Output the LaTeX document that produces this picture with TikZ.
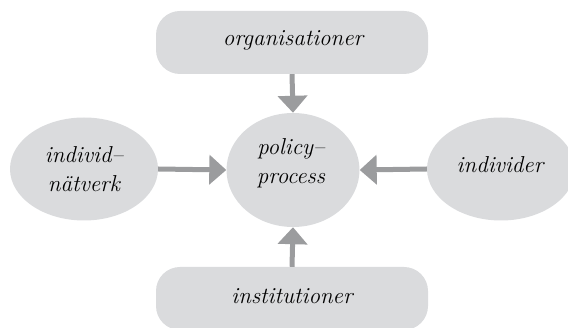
\documentclass[tikz,border=0pt]{standalone}
\usetikzlibrary{shapes.geometric,arrows.meta}
\definecolor{shapefill}{RGB}{218,219,221}
\definecolor{arrowgray}{RGB}{155,156,158}
\tikzset{
  box/.style={draw=none,fill=shapefill,rounded corners=24pt,minimum width=272pt,minimum height=63pt,inner sep=0pt},
  oval/.style={draw=none,fill=shapefill,ellipse,inner sep=0pt,align=center},
  lbl/.style={font=\fontsize{23}{29}\selectfont\itshape,align=center},
  flow/.style={draw=arrowgray,line width=5pt,-{Triangle[width=29pt,length=17pt]},shorten >=0pt}
}
\begin{document}
\begin{tikzpicture}[x=1pt,y=-1pt]
\useasboundingbox (0,0) rectangle (568,328);
\node[box] (org) at (292,42.5) {};
\node[lbl] (orgt) at (293,40) {organisationer};
\node[box] (inst) at (292,298.5) {};
\node[lbl] (instt) at (292,296) {institutioner};
\node[oval,minimum width=148pt,minimum height=103pt] (net) at (84,169) {};
\node[lbl] (nett) at (84,169) {individ--\\nätverk};
\node[oval,minimum width=148pt,minimum height=103pt] (ind) at (501,169) {};
\node[lbl] (indt) at (500,165) {individer};
\node[oval,minimum width=133pt,minimum height=114pt] (pol) at (293,170) {};
\node[lbl] (polt) at (291,163) {policy--\\process};
\draw[flow] (org.south) -- (pol.north);
\draw[flow] (inst.north) -- (pol.south);
\draw[flow] (net.east) -- (pol.west);
\draw[flow] (ind.west) -- (pol.east);
\end{tikzpicture}
\end{document}
